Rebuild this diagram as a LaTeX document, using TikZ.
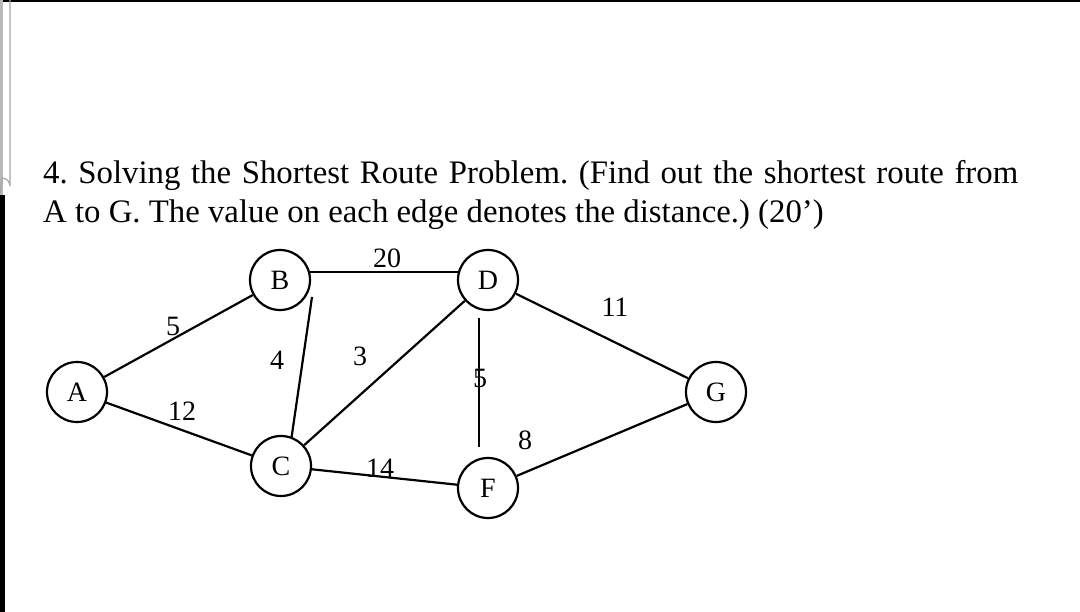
\documentclass[tikz,border=0pt]{standalone}
\usepackage{fontspec}
\setmainfont{Liberation Serif}
\begin{document}
\frenchspacing
\begin{tikzpicture}[x=1pt,y=-1pt,
  vtx/.style={draw,circle,line width=2.2pt,minimum size=60pt,inner sep=0pt,font=\fontsize{28}{28}\selectfont},
  edge/.style={line width=2.2pt},
  wt/.style={inner sep=0pt,font=\fontsize{28}{28}\selectfont},
  title/.style={anchor=base west,inner sep=0pt,font=\fontsize{32.8}{33}\selectfont}]
\useasboundingbox (0,0) rectangle (1080,612);
\fill[white] (0,0) rectangle (1080,612);
% screenshot frame artifacts
\fill[black] (0,0) rectangle (1080,2.5);
\fill[black] (0,195) rectangle (5,612);
\fill[gray!55] (0,0) rectangle (3,195);
\draw[gray!70,line width=1.2pt] (10,0) -- (10,186) arc[start angle=0,end angle=-90,radius=8] -- (0,194);
% title
\node[title] (t1) at (43,184) {\makebox[975pt][s]{4. Solving the Shortest Route Problem. (Find out the shortest route from}};
\node[title] (t2) at (43,223) {A to G. The value on each edge denotes the distance.) (20’)};
% vertices
\node[vtx] (A) at (77,392) {A};
\node[vtx] (B) at (280,280) {B};
\node[vtx] (C) at (281,466) {C};
\node[vtx] (D) at (488,280) {D};
\node[vtx] (F) at (488,488) {F};
\node[vtx] (G) at (716,392) {G};
\coordinate (bc) at (312,297);
\coordinate (df1) at (479,318);
\coordinate (df2) at (479,447);
% edges
\draw[edge] (A) -- (B);
\draw[edge] (A) -- (C);
\draw[edge] (B.15) -- (D.165);
\draw[edge] (bc) -- (C.70);
\draw[edge] (C) -- (D);
\draw[edge] (df1) -- (df2);
\draw[edge] (C) -- (F);
\draw[edge] (D) -- (G);
\draw[edge] (F) -- (G);
% weights
\node[wt] (w1) at (173,326) {5};
\node[wt] (w2) at (182,411) {12};
\node[wt] (w3) at (277,360) {4};
\node[wt] (w4) at (360,356) {3};
\node[wt] (w5) at (387,258) {20};
\node[wt] (w6) at (380,468) {14};
\node[wt] (w7) at (480,378) {5};
\node[wt] (w8) at (525,440) {8};
\node[wt] (w9) at (615,307) {11};
\end{tikzpicture}
\end{document}
